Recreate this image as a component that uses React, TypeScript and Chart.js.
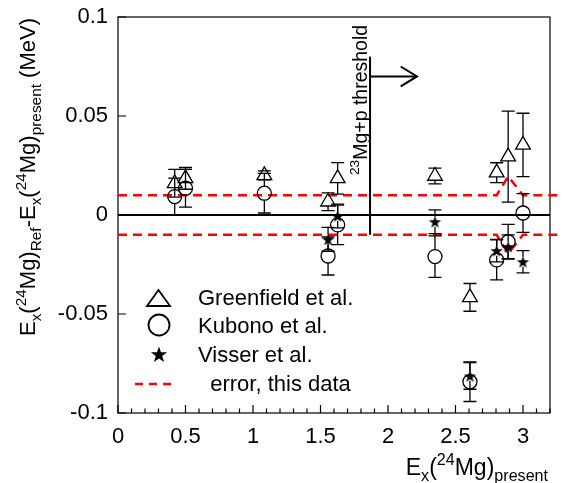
import React, { useEffect, useRef } from "react";
import { Chart, registerables } from "chart.js";
Chart.register(...registerables);

const FONT = "'Liberation Sans', Arial, Helvetica, sans-serif";

const X_MIN = 0;
const X_MAX = 3.2;
const Y_MIN = -0.1;
const Y_MAX = 0.1;
const X_TICKS = [0, 0.5, 1, 1.5, 2, 2.5, 3];
const X_TICK_LABELS = ["0", "0.5", "1", "1.5", "2", "2.5", "3"];
const X_MINOR_STEP = 0.1;
const Y_TICKS = [-0.1, -0.05, 0, 0.05, 0.1];
const Y_TICK_LABELS = ["-0.1", "-0.05", "0", "0.05", "0.1"];

const GREENFIELD_X = [0.42, 0.5, 1.084, 1.556, 1.627, 2.348, 2.607, 2.805, 2.89, 3.0];
const GREENFIELD_Y = [0.016, 0.0185, 0.02, 0.0067, 0.0185, 0.0197, -0.0416, 0.0214, 0.0295, 0.0354];
const GREENFIELD_ERR = [0.007, 0.0055, 0.0023, 0.0045, 0.008, 0.004, 0.007, 0.005, 0.023, 0.016];

const KUBONO_X = [0.42, 0.5, 1.084, 1.556, 1.627, 2.348, 2.607, 2.805, 2.89, 3.0];
const KUBONO_Y = [0.0093, 0.0135, 0.011, -0.0207, -0.005, -0.021, -0.0842, -0.0227, -0.0135, 0.001];
const KUBONO_ERR = [0.0093, 0.0095, 0.01, 0.0096, 0.01, 0.0105, 0.01, 0.0101, 0.0088, 0.0098];

const VISSER_X = [1.556, 1.627, 2.348, 2.607, 2.805, 2.89, 3.0];
const VISSER_Y = [-0.0123, -0.0005, -0.0034, -0.0813, -0.018, -0.016, -0.0236];
const VISSER_ERR = [0.006, 0.006, 0.006, 0.0067, 0.0057, 0.006, 0.0056];

const ERROR_BAND_X = [0, 2.805, 2.89, 3.0, 3.3];
const ERROR_BAND_UPPER = [0.01, 0.01, 0.0195, 0.01, 0.01];
const ERROR_BAND_LOWER = [-0.01, -0.01, -0.0195, -0.01, -0.01];

const ZERO_LINE_X = [0, 3.2];
const ZERO_LINE_Y = [0, 0];

const THRESHOLD_X = [1.867, 1.867];
const THRESHOLD_Y = [-0.01, 0.08];
const ARROW_X = [1.867, 2.215];
const ARROW_Y = [0.07, 0.07];
const ARROW_HEAD_X = [2.094, 2.215, 2.094];
const ARROW_HEAD_Y = [0.075, 0.07, 0.065];
const THRESHOLD_LABEL_Y = 0.0202;

const LEGEND_LABELS = ["Greenfield et al.", "Kubono et al.", "Visser et al.", "  error, this data"];

type Seg = { t: string; k?: "sub" | "sup" };

const Y_TITLE: Seg[] = [
  { t: "E" }, { t: "x", k: "sub" }, { t: "(" }, { t: "24", k: "sup" }, { t: "Mg" }, { t: ")" },
  { t: "Ref", k: "sub" }, { t: "-E" }, { t: "x", k: "sub" }, { t: "(" }, { t: "24", k: "sup" },
  { t: "Mg" }, { t: ")" }, { t: "present", k: "sub" }, { t: " (MeV)" },
];
const X_TITLE: Seg[] = [
  { t: "E" }, { t: "x", k: "sub" }, { t: "(" }, { t: "24", k: "sup" }, { t: "Mg" }, { t: ")" },
  { t: "present", k: "sub" },
];
const THRESHOLD_TITLE: Seg[] = [{ t: "23", k: "sup" }, { t: "Mg+p threshold" }];

function zip(xs: number[], ys: number[]) {
  return xs.map((x, i) => ({ x, y: ys[i] }));
}

function drawRich(ctx: CanvasRenderingContext2D, segs: Seg[], x: number, y: number, size: number, measureOnly = false) {
  let cx = x;
  for (const s of segs) {
    const fs = s.k ? size * 0.7 : size;
    ctx.font = `${fs}px ${FONT}`;
    const dy = s.k === "sub" ? size * 0.28 : s.k === "sup" ? -size * 0.42 : 0;
    if (!measureOnly) ctx.fillText(s.t, cx, y + dy);
    cx += ctx.measureText(s.t).width;
  }
  return cx - x;
}

function starPath(ctx: CanvasRenderingContext2D, cx: number, cy: number, R: number) {
  const r = R * 0.4;
  ctx.beginPath();
  for (let i = 0; i < 10; i++) {
    const a = -Math.PI / 2 + (i * Math.PI) / 5;
    const rr = i % 2 === 0 ? R : r;
    const px = cx + rr * Math.cos(a);
    const py = cy + rr * Math.sin(a);
    if (i === 0) ctx.moveTo(px, py);
    else ctx.lineTo(px, py);
  }
  ctx.closePath();
}

function makeStar(R: number) {
  const c = document.createElement("canvas");
  const s = Math.ceil(R * 2 + 2);
  c.width = s;
  c.height = s;
  const g = c.getContext("2d")!;
  g.fillStyle = "#000";
  starPath(g, s / 2, s / 2 + R * 0.1, R);
  g.fill();
  return c;
}

const errorBarPlugin = {
  id: "errorBars",
  afterDatasetsDraw(chart: any) {
    const ctx: CanvasRenderingContext2D = chart.ctx;
    const ys = chart.scales.y;
    chart.data.datasets.forEach((ds: any, i: number) => {
      if (!ds.errors) return;
      const meta = chart.getDatasetMeta(i);
      ctx.save();
      ctx.strokeStyle = "#000";
      ctx.lineWidth = 1.3;
      meta.data.forEach((pt: any, j: number) => {
        const d = ds.data[j];
        const px = pt.x;
        const py = pt.y;
        const top = ys.getPixelForValue(d.y + ds.errors[j]);
        const bot = ys.getPixelForValue(d.y - ds.errors[j]);
        ctx.beginPath();
        if (py - top > ds.gapTop) {
          ctx.moveTo(px, py - ds.gapTop);
          ctx.lineTo(px, top);
        }
        if (bot - py > ds.gapBottom) {
          ctx.moveTo(px, py + ds.gapBottom);
          ctx.lineTo(px, bot);
        }
        ctx.moveTo(px - 6.5, top);
        ctx.lineTo(px + 6.5, top);
        ctx.moveTo(px - 6.5, bot);
        ctx.lineTo(px + 6.5, bot);
        ctx.stroke();
      });
      ctx.restore();
    });
  },
};

const framePlugin = {
  id: "frame",
  beforeDatasetsDraw(chart: any) {
    const ctx: CanvasRenderingContext2D = chart.ctx;
    const a = chart.chartArea;
    const xs = chart.scales.x;
    const ys = chart.scales.y;
    ctx.save();
    ctx.strokeStyle = "#000";
    ctx.lineWidth = 1.2;
    ctx.strokeRect(a.left, a.top, a.right - a.left, a.bottom - a.top);
    ctx.beginPath();
    for (const v of Y_TICKS) {
      const p = ys.getPixelForValue(v);
      ctx.moveTo(a.left, p);
      ctx.lineTo(a.left + 8, p);
    }
    const n = Math.round((X_MAX - X_MIN) / X_MINOR_STEP);
    for (let i = 0; i <= n; i++) {
      const v = X_MIN + i * X_MINOR_STEP;
      const major = i % 5 === 0;
      const p = xs.getPixelForValue(v);
      ctx.moveTo(p, a.bottom);
      ctx.lineTo(p, a.bottom - (major ? 8 : 4.5));
    }
    ctx.stroke();
    ctx.restore();
  },
};

const textPlugin = {
  id: "texts",
  afterDraw(chart: any) {
    const ctx: CanvasRenderingContext2D = chart.ctx;
    const a = chart.chartArea;
    const xs = chart.scales.x;
    const ys = chart.scales.y;
    ctx.save();
    ctx.fillStyle = "#000";
    ctx.textBaseline = "alphabetic";
    ctx.textAlign = "left";

    // Y title (rotated, right aligned to top of axis)
    const ySize = 22;
    const yw = drawRich(ctx, Y_TITLE, 0, 0, ySize, true);
    ctx.save();
    ctx.translate(35, a.top + 1 + yw);
    ctx.rotate(-Math.PI / 2);
    drawRich(ctx, Y_TITLE, 0, 0, ySize);
    ctx.restore();

    // X title (right aligned)
    const xw = drawRich(ctx, X_TITLE, 0, 0, 23, true);
    drawRich(ctx, X_TITLE, a.right - 2 - xw, 475, 23);

    // threshold label
    ctx.save();
    ctx.translate(xs.getPixelForValue(THRESHOLD_X[0]) - 3, ys.getPixelForValue(THRESHOLD_LABEL_Y));
    ctx.rotate(-Math.PI / 2);
    drawRich(ctx, THRESHOLD_TITLE, 0, 0, 19.5);
    ctx.restore();

    // legend
    ctx.strokeStyle = "#000";
    ctx.lineWidth = 1.8;
    ctx.beginPath();
    ctx.moveTo(158.5, 290);
    ctx.lineTo(147, 306);
    ctx.lineTo(170, 306);
    ctx.closePath();
    ctx.stroke();
    ctx.beginPath();
    ctx.arc(159, 325, 10.5, 0, Math.PI * 2);
    ctx.stroke();
    starPath(ctx, 159, 355, 8.5);
    ctx.fill();
    ctx.save();
    ctx.strokeStyle = "#ff0000";
    ctx.lineWidth = 2.5;
    ctx.setLineDash([8, 6]);
    ctx.beginPath();
    ctx.moveTo(135, 384);
    ctx.lineTo(172, 384);
    ctx.stroke();
    ctx.restore();
    ctx.font = `22px ${FONT}`;
    ctx.fillText(LEGEND_LABELS[0], 198, 305);
    ctx.fillText(LEGEND_LABELS[1], 198, 333);
    ctx.fillText(LEGEND_LABELS[2], 198, 362);
    ctx.fillText(LEGEND_LABELS[3], 198, 391);
    ctx.restore();
  },
};

export default function App() {
  const ref = useRef<HTMLCanvasElement>(null);
  useEffect(() => {
    document.body.style.margin = "0";
    const canvas = ref.current!;
    const star = makeStar(6.5);
    const lineDs = (data: any[], extra: any = {}) => ({
      data,
      showLine: true,
      borderColor: "#000",
      borderWidth: 2,
      pointRadius: 0,
      fill: false,
      tension: 0,
      ...extra,
    });
    const chart = new Chart(canvas, {
      type: "scatter",
      data: {
        datasets: [
          {
            label: "Greenfield et al.",
            data: zip(GREENFIELD_X, GREENFIELD_Y),
            pointStyle: "triangle",
            pointRadius: 8.5,
            borderColor: "#000",
            backgroundColor: "rgba(0,0,0,0)",
            borderWidth: 1.3,
            errors: GREENFIELD_ERR,
            gapTop: 8.5,
            gapBottom: 4.3,
          } as any,
          {
            label: "Kubono et al.",
            data: zip(KUBONO_X, KUBONO_Y),
            pointStyle: "circle",
            pointRadius: 7,
            borderColor: "#000",
            backgroundColor: "rgba(0,0,0,0)",
            borderWidth: 1.3,
            errors: KUBONO_ERR,
            gapTop: 7,
            gapBottom: 7,
          } as any,
          {
            label: "Visser et al.",
            data: zip(VISSER_X, VISSER_Y),
            pointStyle: star,
            pointRadius: 6.5,
            borderColor: "#000",
            backgroundColor: "#000",
            errors: VISSER_ERR,
            gapTop: 5,
            gapBottom: 5,
          } as any,
          lineDs(zip(ZERO_LINE_X, ZERO_LINE_Y), { borderWidth: 2.2 }),
          lineDs(zip(THRESHOLD_X, THRESHOLD_Y)),
          lineDs(zip(ARROW_X, ARROW_Y)),
          lineDs(zip(ARROW_HEAD_X, ARROW_HEAD_Y)),
          lineDs(zip(ERROR_BAND_X, ERROR_BAND_UPPER), {
            borderColor: "#ff0000",
            borderWidth: 2.5,
            borderDash: [9, 6],
            clip: { left: 2, top: 2, right: 20, bottom: 2 },
          }),
          lineDs(zip(ERROR_BAND_X, ERROR_BAND_LOWER), {
            borderColor: "#ff0000",
            borderWidth: 2.5,
            borderDash: [9, 6],
            clip: { left: 2, top: 2, right: 20, bottom: 2 },
          }),
        ],
      },
      options: {
        responsive: false,
        animation: false,
        layout: { padding: { left: 0, top: 17, right: 12, bottom: 0 } },
        plugins: { legend: { display: false }, tooltip: { enabled: false } },
        events: [],
        scales: {
          x: {
            type: "linear",
            min: X_MIN,
            max: X_MAX,
            grid: { display: false, drawTicks: false },
            border: { display: false },
            afterBuildTicks: (s: any) => {
              s.ticks = X_TICKS.map((v) => ({ value: v }));
            },
            afterFit: (s: any) => {
              s.height = 70;
              s.paddingLeft = 0;
              s.paddingRight = 0;
            },
            ticks: {
              color: "#000",
              font: { family: FONT, size: 22 },
              padding: 11,
              maxRotation: 0,
              autoSkip: false,
              callback: (v: any) => {
                const i = X_TICKS.indexOf(v);
                return i >= 0 ? X_TICK_LABELS[i] : "";
              },
            },
          },
          y: {
            type: "linear",
            min: Y_MIN,
            max: Y_MAX,
            grid: { display: false, drawTicks: false },
            border: { display: false },
            afterBuildTicks: (s: any) => {
              s.ticks = Y_TICKS.map((v) => ({ value: v }));
            },
            afterFit: (s: any) => {
              s.width = 118;
              s.paddingTop = 0;
              s.paddingBottom = 0;
            },
            ticks: {
              color: "#000",
              font: { family: FONT, size: 22 },
              padding: 10,
              autoSkip: false,
              callback: (v: any) => {
                const i = Y_TICKS.indexOf(v);
                return i >= 0 ? Y_TICK_LABELS[i] : "";
              },
            },
          },
        },
      } as any,
      plugins: [framePlugin, errorBarPlugin, textPlugin],
    });
    return () => chart.destroy();
  }, []);
  return (
    <div style={{ width: 562, height: 483 }}>
      <canvas ref={ref} width={562} height={483} style={{ display: "block" }} />
    </div>
  );
}
